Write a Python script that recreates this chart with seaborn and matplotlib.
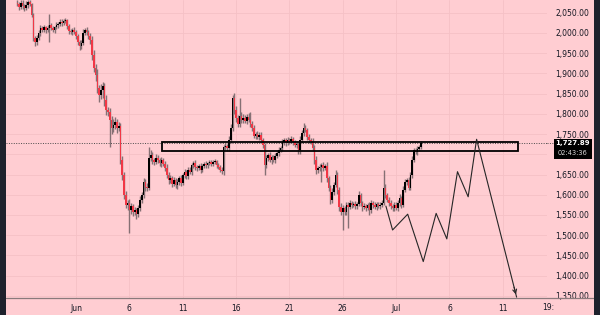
import numpy as np
import pandas as pd
import matplotlib
matplotlib.use("Agg")
import matplotlib.pyplot as plt
import matplotlib.dates as mdates
from matplotlib.patches import Rectangle
from matplotlib.lines import Line2D
import seaborn as sns

# ---------------- data (4h candles) ----------------
start_time = "2023-05-26 12:00"
first_open = 2072.0
closes = [
    2071, 2064, 2074, 2066, 2061, 2069, 2076, 2071, 2044, 1987,
    1977, 1987, 2000, 2012, 2007, 2014, 2007, 2012, 2019, 2012,
    2007, 2014, 2019, 2022, 2027, 2024, 2029, 2031, 2017, 2004,
    2002, 2007, 2002, 1992, 1977, 1967, 1975, 2000, 2007, 2002,
    1992, 1982, 1945, 1913, 1896, 1864, 1846, 1859, 1868, 1834,
    1809, 1804, 1785, 1765, 1772, 1780, 1765, 1770, 1686, 1649,
    1599, 1575, 1580, 1562, 1572, 1557, 1562, 1553, 1567, 1587,
    1599, 1631, 1619, 1617, 1691, 1698, 1686, 1681, 1691, 1686,
    1678, 1686, 1676, 1666, 1649, 1636, 1641, 1627, 1636, 1624,
    1631, 1641, 1629, 1649, 1656, 1646, 1661, 1656, 1673, 1678,
    1668, 1666, 1671, 1661, 1671, 1676, 1673, 1678, 1681, 1676,
    1681, 1683, 1673, 1668, 1661, 1659, 1718, 1720, 1715, 1735,
    1765, 1839, 1809, 1790, 1775, 1795, 1785, 1790, 1782, 1792,
    1785, 1775, 1765, 1745, 1750, 1743, 1748, 1735, 1723, 1673,
    1691, 1698, 1686, 1693, 1686, 1696, 1703, 1710, 1715, 1730,
    1735, 1728, 1735, 1733, 1738, 1730, 1723, 1725, 1710, 1735,
    1752, 1765, 1760, 1743, 1735, 1733, 1715, 1686, 1661, 1666,
    1668, 1673, 1666, 1671, 1641, 1617, 1587, 1607, 1624, 1649,
    1612, 1570, 1557, 1567, 1557, 1575, 1570, 1580, 1575, 1577,
    1572, 1577, 1599, 1580, 1570, 1572, 1567, 1575, 1562, 1580,
    1575, 1570, 1577, 1572, 1575, 1580, 1617, 1599, 1587, 1580,
    1572, 1567, 1575, 1567, 1580, 1592, 1575, 1612, 1631, 1636,
    1617, 1649, 1686, 1710, 1705, 1713, 1718, 1727.89,
]
upper_wick = [
    8, 5, 6, 7, 4, 9, 5, 6, 3, 4,
    5, 8, 6, 7, 5, 6, 4, 8, 27, 5,
    6, 4, 7, 5, 6, 8, 5, 6, 4, 5,
    6, 5, 7, 4, 5, 6, 8, 10, 5, 7,
    6, 8, 10, 12, 9, 15, 8, 14, 10, 9,
    12, 8, 10, 9, 14, 12, 8, 10, 7, 9,
    8, 10, 6, 9, 7, 5, 8, 6, 7, 9,
    8, 10, 7, 9, 27, 12, 8, 6, 9, 7,
    6, 8, 5, 7, 9, 6, 8, 5, 7, 6,
    8, 6, 9, 5, 7, 6, 8, 7, 6, 5,
    7, 5, 6, 8, 6, 5, 7, 4, 6, 5,
    6, 5, 4, 6, 5, 7, 6, 8, 5, 9,
    10, 7, 12, 9, 8, 44, 10, 9, 7, 8,
    9, 19, 6, 7, 5, 8, 6, 7, 5, 6,
    7, 6, 8, 5, 6, 7, 5, 8, 6, 7,
    6, 5, 7, 6, 8, 5, 6, 7, 5, 9,
    8, 12, 7, 6, 8, 5, 6, 7, 9, 6,
    8, 6, 7, 5, 9, 6, 8, 10, 7, 12,
    8, 6, 9, 7, 5, 8, 6, 7, 5, 6,
    7, 5, 10, 6, 5, 7, 6, 5, 8, 6,
    5, 7, 6, 5, 8, 6, 43, 9, 6, 7,
    6, 5, 7, 6, 8, 9, 6, 10, 7, 6,
    8, 7, 9, 6, 5, 7, 6, 4,
]
lower_wick = [
    6, 7, 5, 8, 6, 5, 7, 6, 5, 8,
    10, 6, 5, 8, 6, 5, 7, 6, 35, 5,
    6, 7, 5, 6, 4, 7, 5, 6, 8, 6,
    5, 7, 6, 8, 6, 10, 7, 5, 6, 8,
    7, 9, 12, 10, 15, 12, 18, 10, 20, 15,
    12, 10, 67, 14, 10, 9, 12, 8, 10, 12,
    10, 8, 12, 57, 9, 10, 8, 12, 7, 6,
    8, 6, 10, 7, 5, 8, 9, 7, 6, 8,
    7, 9, 6, 8, 7, 10, 8, 9, 6, 8,
    9, 7, 8, 6, 7, 8, 6, 5, 7, 6,
    6, 8, 5, 7, 6, 5, 7, 6, 5, 6,
    5, 6, 7, 5, 6, 8, 10, 7, 6, 8,
    7, 8, 9, 10, 8, 7, 9, 8, 6, 7,
    6, 7, 8, 6, 7, 5, 8, 6, 7, 24,
    8, 7, 6, 9, 5, 7, 6, 8, 5, 7,
    6, 8, 5, 7, 6, 8, 5, 7, 9, 10,
    6, 7, 5, 8, 6, 7, 8, 9, 10, 7,
    8, 37, 7, 6, 9, 8, 10, 7, 8, 6,
    9, 10, 8, 44, 8, 7, 52, 6, 7, 5,
    6, 8, 5, 7, 9, 6, 8, 5, 12, 6,
    7, 6, 8, 5, 7, 6, 5, 8, 6, 7,
    8, 6, 7, 5, 6, 8, 7, 6, 5, 7,
    6, 5, 7, 6, 5, 6, 5, 4,
]

# projected path (thin black line with arrow)
proj_times = ["2023-06-30 01:00", "2023-06-30 16:00", "2023-07-02 02:00",
              "2023-07-03 13:00", "2023-07-04 18:00", "2023-07-05 18:00",
              "2023-07-06 18:00", "2023-07-07 18:00", "2023-07-08 13:00",
              "2023-07-12 07:00"]
proj_prices = [1572, 1513, 1552, 1435, 1554, 1491, 1657, 1595, 1737, 1347]

# zone rectangle
zone_start, zone_end = "2023-06-09 01:30", "2023-07-12 10:00"
zone_low, zone_high = 1707, 1731

last_price = 1727.89
last_price_label = "1,727.89"
countdown = "02:43:36"

y_ticks = [1350, 1400, 1450, 1500, 1550, 1600, 1650, 1700, 1750, 1800,
           1850, 1900, 1950, 2000, 2050]
hidden_tick = 1700  # covered by the last-price badge in the reference
x_tick_dates = ["2023-06-01", "2023-06-06", "2023-06-11", "2023-06-16",
                "2023-06-21", "2023-06-26", "2023-07-01", "2023-07-06",
                "2023-07-11"]
x_tick_labels = ["Jun", "6", "11", "16", "21", "26", "Jul", "6", "11"]

# ---------------- style ----------------
sns.set_theme(style="white")
plt.rcParams["font.family"] = ["DejaVu Sans"]

BG = "#FFCDD2"
DARK = "#1E222D"
RED = "#F23645"
UP = "#000000"
WICK = "#857074"
GRID = "#F5C0C6"
TXT = "#131722"

W, H = 600, 315
fig = plt.figure(figsize=(W / 100, H / 100), dpi=100)
fig.patch.set_facecolor(BG)
ax = fig.add_axes([6 / W, 1 - 298 / H, 541 / W, 298 / H])
ax.set_facecolor(BG)

n = len(closes)
times = pd.date_range(start_time, periods=n, freq="4h")
x = mdates.date2num(times.to_pydatetime())
c = np.array(closes, dtype=float)
o = np.concatenate([[first_open], c[:-1]])
hi = np.maximum(o, c) + np.array(upper_wick)
lo = np.minimum(o, c) - np.array(lower_wick)
up = c >= o

# grid
for yt in y_ticks:
    ax.axhline(yt, color=GRID, lw=0.6, zorder=0)
xt = mdates.date2num(pd.to_datetime(x_tick_dates).to_pydatetime())
for v in xt:
    ax.axvline(v, color=GRID, lw=0.6, zorder=0)

# candles
ax.vlines(x, lo, hi, color=WICK, lw=1.0, zorder=2)
bw = 0.15
body_h = np.maximum(np.abs(c - o), 3.0)
body_b = np.minimum(o, c)
ax.bar(x[up], body_h[up], bottom=body_b[up], width=bw, color=UP, zorder=3, linewidth=0)
ax.bar(x[~up], body_h[~up], bottom=body_b[~up], width=bw, color=RED, zorder=3, linewidth=0)

# zone
zs = mdates.date2num(pd.Timestamp(zone_start).to_pydatetime())
ze = mdates.date2num(pd.Timestamp(zone_end).to_pydatetime())
ax.add_patch(Rectangle((zs, zone_low), ze - zs, zone_high - zone_low,
                       fill=False, edgecolor="#000000", lw=1.3, zorder=4))

# last price dotted line
ax.axhline(last_price, color="#4a4a4a", lw=0.7, ls=(0, (1, 1.5)), zorder=1)

# projection path
px = mdates.date2num(pd.to_datetime(proj_times).to_pydatetime())
sns.lineplot(x=px, y=proj_prices, sort=False, estimator=None, color="#262626",
             lw=0.8, ax=ax, zorder=5)
ax.annotate("", xy=(px[-1], proj_prices[-1]),
            xytext=(px[-1] - (px[-1] - px[-2]) * 0.08,
                    proj_prices[-1] - (proj_prices[-1] - proj_prices[-2]) * 0.08),
            arrowprops=dict(arrowstyle="->", color="#262626", lw=0.8,
                            mutation_scale=7), zorder=5)

# limits
x0 = mdates.date2num(pd.Timestamp("2023-05-25 10:30").to_pydatetime())
x1 = mdates.date2num(pd.Timestamp("2023-07-15 03:20").to_pydatetime())
ax.set_xlim(x0, x1)
ax.set_ylim(1345, 2081)

# ticks
ax.yaxis.tick_right()
ax.set_yticks(y_ticks)
ax.set_yticklabels(["" if v == hidden_tick else f"{v:,.2f}" for v in y_ticks])
ax.set_xticks(xt)
ax.set_xticklabels(x_tick_labels)
ax.tick_params(axis="y", length=0, pad=5.8, labelsize=5.5, labelcolor=TXT)
ax.tick_params(axis="x", length=0, pad=4, labelsize=5.5, labelcolor=TXT)
for s in ax.spines.values():
    s.set_visible(False)
ax.set_xlabel("")
ax.set_ylabel("")

# figure-level decorations
fig.text(548 / W, 1 - 308 / H, "19:", fontsize=5.5, color=TXT, ha="center", va="center")
fig.add_artist(Line2D([6 / W, 594 / W], [1 - 297.5 / H] * 2, color="#8A7A7C", lw=0.9))
ly = ax.transData.transform((0, last_price))[1] / H
fig.add_artist(Line2D([547 / W, 554 / W], [ly, ly], color="#4a4a4a", lw=0.7, ls=(0, (1, 1.5))))
fig.add_artist(Rectangle((554 / W, 1 - 158.5 / H), 38 / W, 20 / H, transform=fig.transFigure,
                         facecolor="#000000", edgecolor="none", zorder=10))
fig.text(573 / W, 1 - 143.5 / H, last_price_label, fontsize=5.0, fontweight="bold",
         color="white", ha="center", va="center", zorder=11)
fig.text(573 / W, 1 - 153.2 / H, countdown, fontsize=4.8, color="#D8D8D8",
         ha="center", va="center", zorder=11)
fig.add_artist(Rectangle((0, 0), 6 / W, 1, transform=fig.transFigure,
                         facecolor=DARK, edgecolor="none", zorder=12))
fig.add_artist(Rectangle((594 / W, 0), 6 / W, 1, transform=fig.transFigure,
                         facecolor=DARK, edgecolor="none", zorder=12))

fig.savefig("out.png", dpi=100, facecolor=BG)
